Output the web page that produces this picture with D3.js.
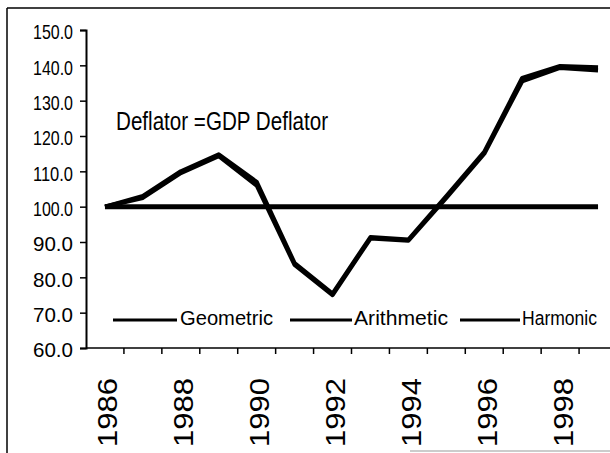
<!DOCTYPE html>
<html>
<head>
<meta charset="utf-8">
<script src="https://cdn.jsdelivr.net/npm/d3@7"></script>
<style>
  html, body { margin: 0; padding: 0; background: #fff; }
  svg { display: block; }
  text { font-family: "Liberation Sans", Arial, sans-serif; fill: #000; }
</style>
</head>
<body>
<svg id="chart" width="610" height="453"></svg>
<script>
const years = [1986, 1987, 1988, 1989, 1990, 1991, 1992, 1993, 1994, 1995, 1996, 1997, 1998, 1999];
const geometric  = [100, 102.5, 109.5, 114.3, 106.0, 83.5, 75.0, 91.0, 90.4, 102.5, 115.0, 135.5, 139.3, 138.6];
const arithmetic = [100, 103.0, 110.0, 114.8, 107.0, 84.0, 75.4, 91.4, 90.7, 103.0, 115.5, 136.4, 139.8, 139.4];
const harmonic   = [100, 100, 100, 100, 100, 100, 100, 100, 100, 100, 100, 100, 100, 100];
const yTicks = [60, 70, 80, 90, 100, 110, 120, 130, 140, 150];
const xLabelYears = [1986, 1988, 1990, 1992, 1994, 1996, 1998];
const seriesNames = ["Geometric", "Arithmetic", "Harmonic"];
const annotation = "Deflator =GDP Deflator";

const svg = d3.select("#chart");

// frame (scanned border)
svg.append("line").attr("x1", 7).attr("x2", 7).attr("y1", 8).attr("y2", 453)
  .attr("stroke", "#000").attr("stroke-width", 1.5);
svg.append("line").attr("x1", 7).attr("x2", 610).attr("y1", 8).attr("y2", 8)
  .attr("stroke", "#000").attr("stroke-width", 1.5);
svg.append("line").attr("x1", 410).attr("x2", 610).attr("y1", 451).attr("y2", 451)
  .attr("stroke", "#999").attr("stroke-width", 1);

const x = d3.scaleBand().domain(years).range([86, 617]).padding(0);
const y = d3.scaleLinear().domain([60, 150]).range([348, 30]);
const cx = d => x(d) + x.bandwidth() / 2;

// Y axis
const yAxis = svg.append("g").attr("transform", "translate(86,0)")
  .call(d3.axisLeft(y).tickValues(yTicks).tickFormat(d3.format(".1f")).tickSize(6).tickPadding(7));
yAxis.select(".domain").attr("stroke", "#000").attr("stroke-width", 2);
yAxis.selectAll(".tick line").attr("stroke", "#000").attr("stroke-width", 1.5);
yAxis.selectAll(".tick text")
  .attr("font-size", 21)
  .attr("dy", "0.42em")
  .attr("textLength", 40)
  .attr("lengthAdjust", "spacingAndGlyphs")
  .style("font-family", "'Liberation Sans', Arial, sans-serif")
  .attr("fill", "#000");

// X axis line and boundary ticks
svg.append("line").attr("x1", 86).attr("x2", 610).attr("y1", y(60)).attr("y2", y(60))
  .attr("stroke", "#000").attr("stroke-width", 1.5);
svg.append("g").selectAll("line").data(years.slice(1).concat(["end"]))
  .join("line")
  .attr("x1", d => d === "end" ? x.range()[1] : x(d))
  .attr("x2", d => d === "end" ? x.range()[1] : x(d))
  .attr("y1", y(60)).attr("y2", y(60) + 6)
  .attr("stroke", "#000").attr("stroke-width", 1.5);

// X labels (rotated)
svg.append("g").selectAll("text").data(xLabelYears).join("text")
  .attr("transform", d => `translate(${cx(d)},378) rotate(-90)`)
  .attr("text-anchor", "end")
  .attr("dy", 12.5)
  .attr("font-size", 28)
  .attr("textLength", 69)
  .attr("lengthAdjust", "spacingAndGlyphs")
  .text(d => d);

// lines
const line = d3.line().x((d, i) => cx(years[i])).y(d => y(d));
svg.append("path").datum(harmonic).attr("d", line)
  .attr("fill", "none").attr("stroke", "#000").attr("stroke-width", 5);
svg.append("path").datum(geometric).attr("d", line)
  .attr("fill", "none").attr("stroke", "#000").attr("stroke-width", 4.2).attr("stroke-linejoin", "round");
svg.append("path").datum(arithmetic).attr("d", line)
  .attr("fill", "none").attr("stroke", "#000").attr("stroke-width", 4.2).attr("stroke-linejoin", "round");

// annotation
svg.append("text").attr("x", 116).attr("y", 130)
  .attr("font-size", 25)
  .attr("textLength", 212)
  .attr("lengthAdjust", "spacingAndGlyphs")
  .text(annotation);

// legend
const legendItems = [
  { name: seriesNames[0], x1: 113, x2: 177, tx: 180, tw: 93 },
  { name: seriesNames[1], x1: 290, x2: 352, tx: 354, tw: 94 },
  { name: seriesNames[2], x1: 460, x2: 520, tx: 522, tw: 75 }
];
const lg = svg.append("g");
lg.selectAll("line").data(legendItems).join("line")
  .attr("x1", d => d.x1).attr("x2", d => d.x2)
  .attr("y1", 320).attr("y2", 320)
  .attr("stroke", "#000").attr("stroke-width", 3.2);
lg.selectAll("text").data(legendItems).join("text")
  .attr("x", d => d.tx).attr("y", 324.5)
  .attr("font-size", 20.5)
  .attr("textLength", d => d.tw)
  .attr("lengthAdjust", "spacingAndGlyphs")
  .text(d => d.name);
</script>
</body>
</html>
